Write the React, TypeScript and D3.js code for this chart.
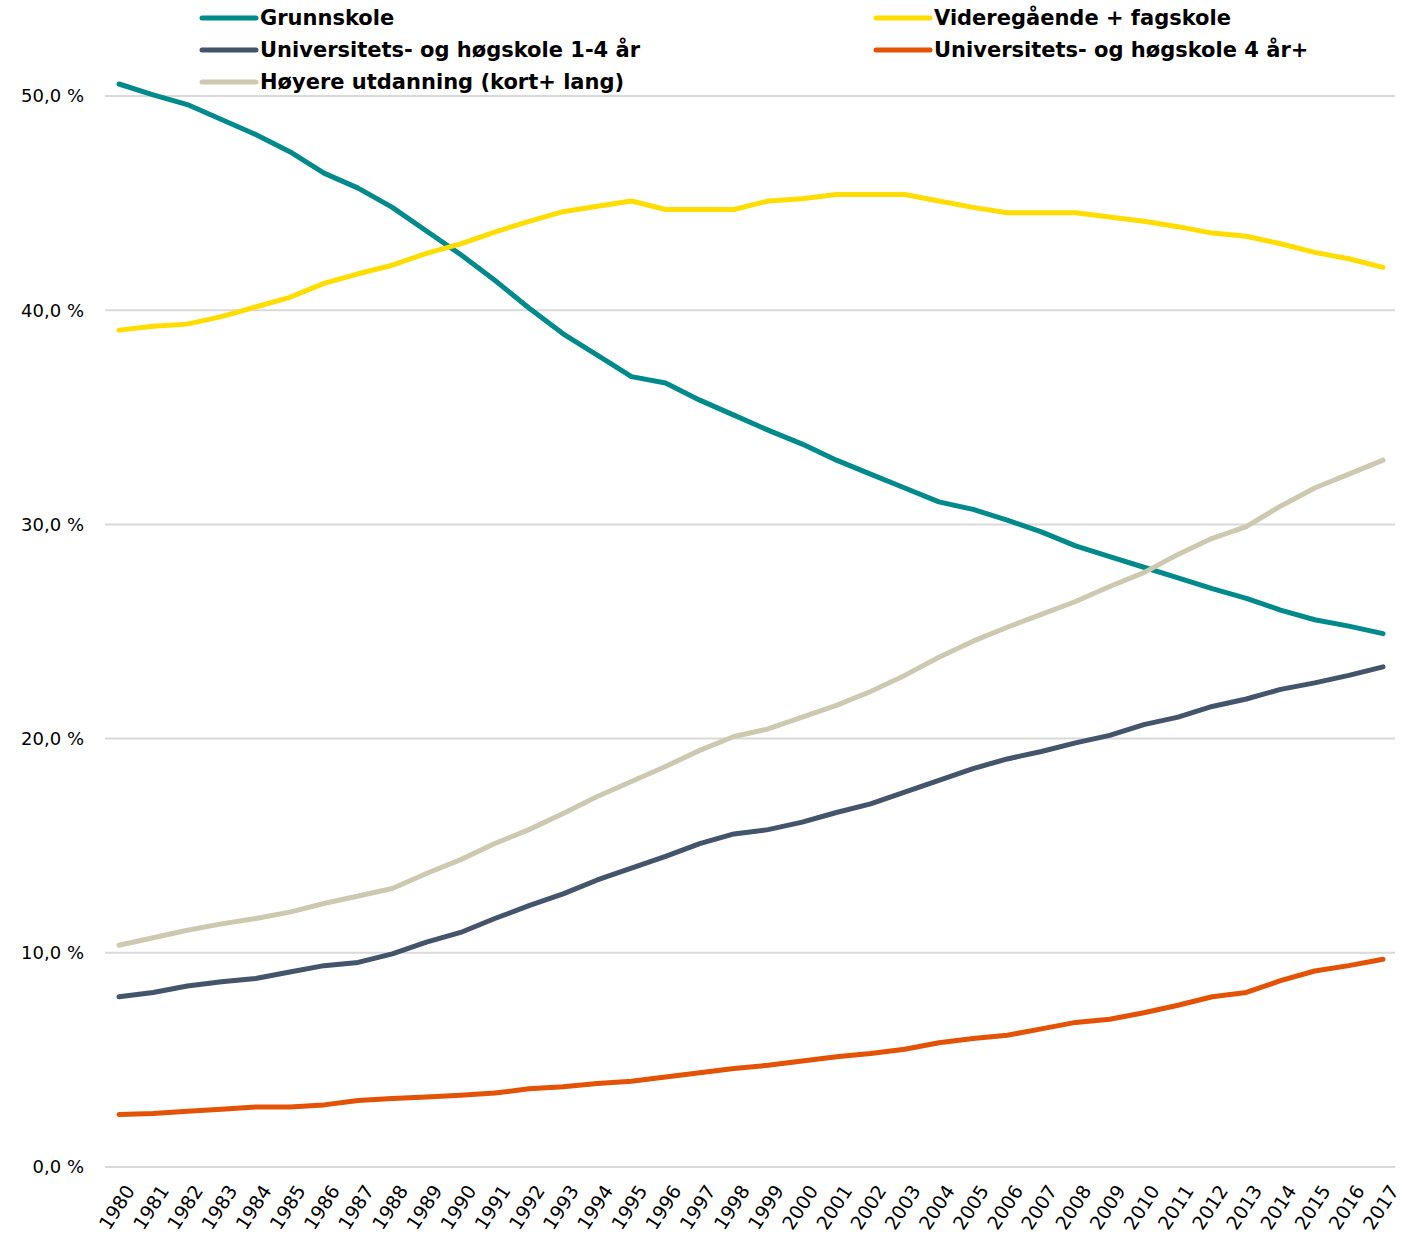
import { useEffect, useRef } from "react";
import * as d3 from "d3";

const years = d3.range(1980, 2018).map(String);

const grunnskole = [
  50.56, 50.05, 49.6, 48.9, 48.2, 47.4, 46.4, 45.7, 44.8, 43.7, 42.6, 41.4, 40.1,
  38.9, 37.9, 36.9, 36.6, 35.8, 35.1, 34.4, 33.75, 33.0, 32.35, 31.7, 31.05, 30.7,
  30.2, 29.65, 29.0, 28.5, 28.0, 27.5, 27.0, 26.55, 26.0, 25.55, 25.25, 24.9,
];
const videregaende = [
  39.07, 39.25, 39.35, 39.7, 40.15, 40.6, 41.25, 41.7, 42.1, 42.65, 43.1, 43.65,
  44.15, 44.6, 44.85, 45.1, 44.7, 44.7, 44.7, 45.1, 45.2, 45.4, 45.4, 45.4, 45.1,
  44.8, 44.55, 44.55, 44.55, 44.35, 44.15, 43.9, 43.6, 43.45, 43.1, 42.7, 42.4, 42.0,
];
const uniKort = [
  7.95, 8.15, 8.45, 8.65, 8.8, 9.1, 9.4, 9.55, 9.95, 10.5, 10.95, 11.6, 12.2, 12.75,
  13.4, 13.95, 14.5, 15.1, 15.55, 15.75, 16.1, 16.55, 16.95, 17.5, 18.05, 18.6,
  19.05, 19.4, 19.8, 20.15, 20.65, 21.0, 21.5, 21.85, 22.3, 22.6, 22.95, 23.35,
];
const uniLang = [
  2.45, 2.5, 2.6, 2.7, 2.8, 2.8, 2.9, 3.1, 3.2, 3.27, 3.35, 3.45, 3.65, 3.75, 3.9,
  4.0, 4.2, 4.4, 4.6, 4.75, 4.95, 5.15, 5.3, 5.5, 5.8, 6.0, 6.15, 6.45, 6.75, 6.9,
  7.2, 7.55, 7.95, 8.15, 8.7, 9.15, 9.4, 9.7,
];
const hoyere = [
  10.35, 10.7, 11.05, 11.35, 11.6, 11.9, 12.3, 12.65, 13.0, 13.7, 14.35, 15.1, 15.75,
  16.5, 17.3, 18.0, 18.7, 19.45, 20.1, 20.45, 21.0, 21.55, 22.2, 22.95, 23.8, 24.55,
  25.2, 25.8, 26.4, 27.1, 27.75, 28.6, 29.35, 29.9, 30.85, 31.7, 32.35, 33.0,
];
const yTicks = [0, 10, 20, 30, 40, 50];

const series = [
  { name: "Grunnskole", values: grunnskole, color: "#008a8c" },
  { name: "Videregående + fagskole", values: videregaende, color: "#ffdd00" },
  { name: "Universitets- og høgskole 1-4 år", values: uniKort, color: "#44546a" },
  { name: "Universitets- og høgskole 4 år+", values: uniLang, color: "#e35205" },
  { name: "Høyere utdanning (kort+ lang)", values: hoyere, color: "#cdc9b0" },
];
// legend order: left column rows 0..2, right column rows 0..1
const legendPos = [
  [0, 0], [1, 0], [0, 1], [1, 1], [0, 2],
];

export default function App() {
  const ref = useRef<SVGSVGElement>(null);

  useEffect(() => {
    const width = 1403;
    const height = 1237;
    const font = "'DejaVu Sans', Verdana, sans-serif";
    const svg = d3.select(ref.current).attr("width", width).attr("height", height);
    svg.selectAll("*").remove();

    const x = d3.scalePoint<string>().domain(years).range([119, 1383]);
    const y = d3.scaleLinear().domain([0, 50]).range([1167, 96]);

    // gridlines
    svg
      .append("g")
      .selectAll("line")
      .data(yTicks)
      .join("line")
      .attr("x1", 105)
      .attr("x2", 1395)
      .attr("y1", (d) => y(d))
      .attr("y2", (d) => y(d))
      .attr("stroke", "#d9d9d9")
      .attr("stroke-width", 2);

    svg
      .append("g")
      .selectAll("text")
      .data(yTicks)
      .join("text")
      .attr("x", 84)
      .attr("y", (d) => y(d))
      .attr("dy", "0.35em")
      .attr("text-anchor", "end")
      .attr("font-family", font)
      .attr("font-size", 18)
      .attr("fill", "#000")
      .text((d) => `${d.toFixed(1).replace(".", ",")} %`);

    svg
      .append("g")
      .selectAll("text")
      .data(years)
      .join("text")
      .attr("transform", (d) => `translate(${x(d)! + 11},${1187}) rotate(-57)`)
      .attr("text-anchor", "end")
      .attr("dy", "0.35em")
      .attr("font-family", font)
      .attr("font-size", 19)
      .attr("fill", "#000")
      .text((d) => d);

    const line = d3
      .line<number>()
      .x((_, i) => x(years[i])!)
      .y((d) => y(d));

    svg
      .append("g")
      .selectAll("path")
      .data(series)
      .join("path")
      .attr("d", (d) => line(d.values))
      .attr("fill", "none")
      .attr("stroke", (d) => d.color)
      .attr("stroke-width", 5)
      .attr("stroke-linecap", "round")
      .attr("stroke-linejoin", "round");

    const legend = svg
      .append("g")
      .selectAll("g")
      .data(series)
      .join("g")
      .attr("transform", (_, i) => {
        const [col, row] = legendPos[i];
        return `translate(${col === 0 ? 202 : 876},${18 + row * 32})`;
      });
    legend
      .append("line")
      .attr("x1", 0)
      .attr("x2", 54)
      .attr("stroke", (d) => d.color)
      .attr("stroke-width", 5)
      .attr("stroke-linecap", "round");
    legend
      .append("text")
      .attr("x", 58)
      .attr("dy", "0.35em")
      .attr("font-family", font)
      .attr("font-weight", "bold")
      .attr("font-size", 21)
      .attr("fill", "#000")
      .text((d) => d.name);
  }, []);

  return <svg ref={ref} style={{ position: "absolute", left: 0, top: 0 }} />;
}
